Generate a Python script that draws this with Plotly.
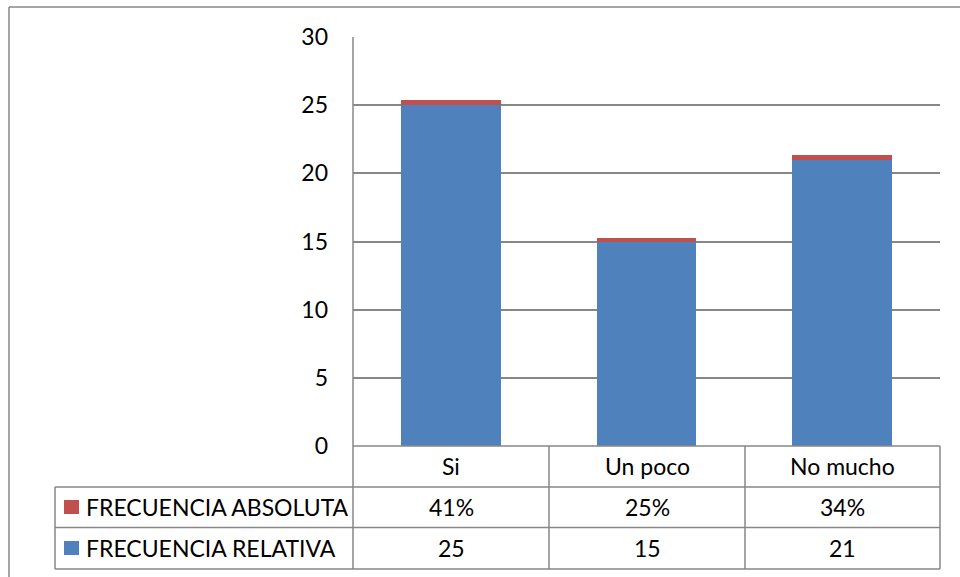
import plotly.graph_objects as go

categories = ["Si", "Un poco", "No mucho"]
relativa = [25, 15, 21]
absoluta = [0.41, 0.25, 0.34]
absoluta_labels = ["41%", "25%", "34%"]
relativa_labels = ["25", "15", "21"]
series_names = ["FRECUENCIA ABSOLUTA", "FRECUENCIA RELATIVA"]
y_ticks = [0, 5, 10, 15, 20, 25, 30]

W, H = 960, 577
BLUE = "#4F81BD"
RED = "#C0504D"
GRID = "#878787"
FONT = "Lato, Calibri, Carlito, sans-serif"
FS = 23

def px(x):
    return x / W

def py(y):
    return 1 - y / H

PL, PR, PT, PB = 353, 940, 37, 446

fig = go.Figure()
fig.add_trace(go.Bar(x=categories, y=relativa, name=series_names[1],
                     marker=dict(color=BLUE, line=dict(width=0)), width=0.51))
fig.add_trace(go.Bar(x=categories, y=absoluta, name=series_names[0],
                     marker=dict(color=RED, line=dict(width=0)), width=0.51))

shapes = []
def line(x0, y0, x1, y1, w=1.5, c=GRID):
    shapes.append(dict(type="line", xref="paper", yref="paper",
                       x0=px(x0), y0=py(y0), x1=px(x1), y1=py(y1),
                       line=dict(color=c, width=w), layer="above"))

# outer border
line(9, 7, 962, 7, 1.5)
line(9, 7, 9, 580, 1.5)
# axis line
line(PL, PT, PL, 569)
# table horizontal lines
for yy in [487, 527.5, 569]:
    line(55, yy, 940, yy)
line(PL, PB, 940, PB)
# table vertical lines
line(55, 487, 55, 569)
cols = [PL, 549, 745, 940]
for xx in cols[1:]:
    line(xx, PB, xx, 569)

annotations = []
centers = [(cols[i] + cols[i + 1]) / 2 for i in range(3)]
row_y = [466.5, 507, 548]
tf = dict(size=FS, color="#000", family=FONT)
for i, c in enumerate(categories):
    for r, txt in enumerate([c, absoluta_labels[i], relativa_labels[i]]):
        annotations.append(dict(x=px(centers[i]), y=py(row_y[r]), xref="paper", yref="paper",
                                xanchor="center", yanchor="middle",
                                text=txt, showarrow=False, font=tf))

for name, color, yy in [(series_names[0], RED, row_y[1]), (series_names[1], BLUE, row_y[2])]:
    shapes.append(dict(type="rect", xref="paper", yref="paper",
                       x0=px(64), x1=px(79), y0=py(yy - 7), y1=py(yy + 7),
                       fillcolor=color, line=dict(width=0)))
    annotations.append(dict(x=px(84), y=py(yy), xref="paper", yref="paper",
                            xanchor="left", yanchor="middle", text=name, showarrow=False,
                            font=tf))

fig.update_layout(
    width=W, height=H, barmode="stack", showlegend=False,
    margin=dict(l=0, r=0, t=0, b=0, autoexpand=False),
    paper_bgcolor="white", plot_bgcolor="white",
    bargap=0.49,
    xaxis=dict(domain=[px(PL), px(PR)], showticklabels=False, showgrid=False,
               zeroline=False, showline=False, ticks="", automargin=False),
    yaxis=dict(domain=[py(PB), py(PT)], range=[0, 30], tickvals=y_ticks,
               showgrid=True, gridcolor=GRID, gridwidth=1.5, zeroline=False,
               showline=False, ticks="", ticklabelstandoff=24, automargin=False,
               tickfont=tf),
    shapes=shapes, annotations=annotations,
    font=dict(family=FONT),
)

fig.write_html("out.html")
